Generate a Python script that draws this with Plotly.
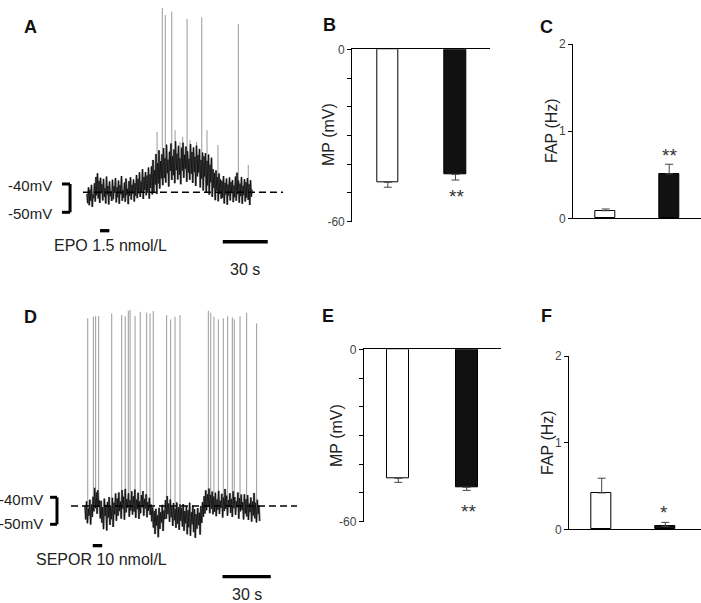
import numpy as np
import plotly.graph_objects as go

W, H = 701, 603
FONT = "Liberation Sans, Arial, sans-serif"

# ---------------- data ----------------
dt = 0.5  # s, sampling step of the read-off traces

# Panel A: membrane potential trace (mV), EPO 1.5 nmol/L
trace_a_mv = [
    -43.5, -46.8, -41.2, -47.5, -42.0, -45.9, -40.3, -48.1, -43.7, -44.9, -39.8, -46.2, -37.5, -44.0, -36.2, -45.1, -38.9, -46.7, -37.8, -43.3,
    -40.1, -45.8, -38.2, -44.6, -41.5, -46.9, -37.4, -43.8, -40.7, -47.2, -39.1, -44.3, -42.6, -46.0, -38.5, -45.4, -40.8, -43.1, -37.9, -46.5,
    -41.2, -44.7, -38.8, -47.0, -40.4, -43.6, -37.2, -45.9, -42.1, -44.8, -39.5, -46.3, -38.1, -43.9, -41.7, -47.1, -39.0, -44.2, -37.6, -45.5,
    -40.3, -43.4, -38.4, -46.2, -39.7, -44.1, -36.8, -45.0, -38.2, -43.3, -35.9, -44.6, -39.1, -42.8, -34.7, -45.3, -37.5, -42.2, -35.8, -44.0,
    -37.0, -43.1, -34.2, -45.2, -36.6, -41.4, -33.8, -43.7, -31.5, -42.9, -35.1, -40.2, -29.4, -43.5, -32.7, -39.8, -28.1, -41.6, -31.9, -38.0,
    -29.5, -40.4, -27.3, -37.9, -30.8, -39.5, -26.1, -36.2, -31.4, -40.9, -28.6, -35.4, -25.7, -38.6, -30.2, -36.9, -27.8, -39.7, -24.9, -35.1,
    -29.3, -38.4, -26.5, -36.7, -30.9, -40.1, -27.2, -35.3, -25.4, -37.8, -29.7, -34.6, -26.8, -39.2, -28.4, -35.9, -31.1, -38.5, -25.9, -36.4,
    -28.7, -39.6, -27.1, -35.8, -30.4, -40.7, -26.4, -37.3, -29.8, -36.0, -27.6, -41.2, -31.5, -38.1, -28.9, -42.3, -30.2, -37.4, -29.1, -43.0,
    -31.8, -40.5, -29.6, -43.8, -33.2, -39.4, -30.7, -44.6, -34.8, -41.3, -36.1, -45.7, -35.2, -42.4, -37.6, -46.1, -36.3, -43.5, -38.4, -45.2,
    -38.9, -44.8, -37.2, -46.9, -39.6, -43.7, -38.1, -47.3, -40.2, -44.1, -37.7, -45.8, -39.3, -43.2, -38.6, -46.4, -40.5, -44.7, -37.4, -45.9,
    -36.0, -43.6, -38.8, -46.6, -39.9, -44.3, -37.5, -47.0, -40.7, -43.9, -38.3, -46.2, -39.4, -44.8, -37.9, -45.6, -40.1, -47.4, -38.7, -44.5, -42.0,
]
spike_a_t = [46.7, 50.2, 52.2, 56.5, 58.7, 62.0, 63.8, 66.7, 68.7, 73.1, 76.5, 80.0, 87.3, 100.9, 107.5]
spike_a_peak = [-21.6, 22.2, 19.7, 20.9, -21.0, -25.1, -23.3, 18.3, -24.5, -25.1, 18.9, -21.0, -26.2, 16.5, -33.3]

# Panel D: membrane potential trace (mV), SEPOR 10 nmol/L
trace_d_mv = [
    -43.0, -48.2, -41.5, -49.6, -44.1, -46.8, -40.9, -50.1, -42.7, -47.3, -39.8, -45.2, -36.5, -44.0, -38.2, -46.1, -37.4, -43.5, -41.2, -47.8,
    -41.3, -49.4, -43.6, -51.8, -40.5, -46.9, -42.8, -52.3, -41.7, -47.5, -39.9, -50.2, -43.4, -48.1, -40.2, -51.0, -42.0, -46.3, -38.6, -48.7,
    -40.4, -46.8, -38.2, -45.1, -41.6, -47.9, -37.3, -44.2, -39.8, -48.3, -36.9, -45.6, -40.7, -43.8, -38.5, -47.2, -41.1, -44.9, -37.8, -46.4,
    -39.6, -45.3, -37.1, -47.6, -40.9, -44.4, -38.3, -48.0, -41.4, -45.9, -39.2, -43.7, -37.7, -46.8, -40.6, -44.1, -38.9, -47.4, -41.8, -45.0,
    -40.2, -46.5, -42.7, -48.9, -43.8, -51.2, -45.1, -53.6, -44.3, -50.4, -46.7, -54.8, -43.9, -51.7, -45.6, -49.3, -42.8, -52.5, -44.9, -48.1,
    -41.0, -47.9, -39.5, -46.2, -42.3, -49.1, -40.8, -47.4, -43.5, -50.6, -42.1, -48.5, -44.2, -51.3, -41.9, -49.8, -43.7, -52.0, -42.6, -48.7,
    -43.9, -50.8, -42.5, -52.4, -45.1, -49.6, -43.3, -53.7, -44.8, -51.1, -42.0, -54.2, -45.6, -50.0, -43.1, -52.9, -44.4, -55.0, -46.2, -51.6,
    -44.0, -50.3, -45.7, -53.8, -43.2, -49.5, -41.8, -47.2, -39.6, -46.0, -37.4, -44.8, -38.9, -43.5, -36.8, -45.9, -39.1, -44.2, -37.9, -46.3,
    -39.7, -45.4, -38.3, -47.0, -40.8, -44.6, -37.6, -46.2, -41.3, -43.9, -38.7, -47.5, -40.1, -45.1, -36.9, -44.3, -39.4, -46.8, -41.0, -43.6,
    -38.5, -45.8, -40.6, -47.3, -37.8, -44.0, -39.9, -46.5, -41.5, -43.7, -38.2, -47.9, -40.3, -45.2, -39.0, -44.7, -41.8, -48.2, -38.9, -46.0,
    -40.7, -47.1, -39.2, -48.4, -42.3, -45.5, -40.1, -49.0, -41.6, -46.7, -38.4, -47.8, -42.0, -49.3, -40.9, -46.2, -43.1, -48.8,
]
spike_d_t = [1.7, 5.2, 6.6, 8.5, 16.6, 22.8, 25.0, 26.9, 28.0, 31.1, 34.3, 38.3, 40.4, 42.4,
             50.7, 53.2, 55.9, 59.0, 76.6, 78.1, 80.1, 82.8, 85.9, 88.6, 91.5, 92.7, 96.3, 100.4, 106.6]
spike_d_peak = [26.3, 26.9, 27.1, 27.1, 28.1, 27.5, 27.1, 29.1, 29.4, 27.1, 28.7, 28.4, 28.1, 29.0,
                27.5, 25.9, 26.9, 27.5, 29.1, 28.4, 26.9, 25.9, 26.3, 27.1, 26.6, 25.9, 27.1, 28.4, 24.4]

baseline_a_mv = -42.9
baseline_d_mv = -43.2
scale_bar_s = 30
drug_a = "EPO 1.5 nmol/L"
drug_d = "SEPOR 10 nmol/L"

# Bar panels
groups = ["Control", "Drug"]
mp_b = [-46.3, -43.5]
mp_b_err = [1.7, 2.0]
fap_c = [0.087, 0.51]
fap_c_err = [0.02, 0.11]
mp_e = [-44.9, -48.0]
mp_e_err = [1.4, 1.1]
fap_f = [0.42, 0.035]
fap_f_err = [0.17, 0.045]

# ---------------- helpers ----------------
def xd(a, b):
    return [a / W, b / W]

def yd(top, bottom):
    return [1 - bottom / H, 1 - top / H]

def px(x):
    return x / W

def py(y):
    return 1 - y / H

def xrange_px(p0, p1, anchor_px, anchor_val, ppu):
    return [anchor_val + (p0 - anchor_px) / ppu, anchor_val + (p1 - anchor_px) / ppu]

def yrange_px(top, bottom, anchor_px, anchor_val, ppu):
    return [anchor_val + (anchor_px - bottom) / ppu, anchor_val + (anchor_px - top) / ppu]

def build_trace(vals, st, sp):
    t = np.arange(len(vals)) * dt
    v = np.array(vals, dtype=float)
    sx, sy = [], []
    for ts, pk in zip(st, sp):
        i = int(round(ts / dt))
        i = min(max(i, 0), len(v) - 1)
        sx += [ts, ts, None]
        sy += [v[i], pk, None]
    return t, v, sx, sy

fig = go.Figure()

# ---------------- trace panels ----------------
for (vals, st, sp, xa, ya) in [
    (trace_a_mv, spike_a_t, spike_a_peak, "x", "y"),
    (trace_d_mv, spike_d_t, spike_d_peak, "x4", "y4"),
]:
    T, V, sx, sy = build_trace(vals, st, sp)
    fig.add_trace(go.Scatter(x=sx, y=sy, mode="lines", line=dict(color="#9a9a9a", width=1),
                             xaxis=xa, yaxis=ya, hoverinfo="skip", showlegend=False))
    fig.add_trace(go.Scatter(x=T, y=V, mode="lines", line=dict(color="#8a8a8a", width=2.2),
                             xaxis=xa, yaxis=ya, hoverinfo="skip", showlegend=False))
    fig.add_trace(go.Scatter(x=T, y=V, mode="lines", line=dict(color="#111111", width=0.9),
                             xaxis=xa, yaxis=ya, hoverinfo="skip", showlegend=False))

# ---------------- bar panels ----------------
def add_bars(vals, errs, xa, ya, width, negative):
    if negative:
        ey = dict(type="data", symmetric=False, array=[0, 0], arrayminus=errs,
                  color="#444", thickness=1, width=4)
    else:
        ey = dict(type="data", symmetric=False, array=errs, arrayminus=[0, 0],
                  color="#444", thickness=1, width=4)
    fig.add_trace(go.Bar(x=[0, 1], y=vals, width=width, xaxis=xa, yaxis=ya,
                         marker=dict(color=["white", "#111111"], line=dict(color="black", width=1)),
                         error_y=ey, showlegend=False, hoverinfo="skip"))

def bar_xaxis(left, right, c0, c1):
    ppu = (c1 - c0)
    return [(left - c0) / ppu, (right - c0) / ppu], ppu

rb, ppb = bar_xaxis(352.3, 490, 387.8, 455.5)
rc, ppc = bar_xaxis(573.3, 701, 605.7, 669.2)
re_, ppe = bar_xaxis(364, 500.7, 398.3, 466.7)
rf, ppf = bar_xaxis(569.3, 701, 601.7, 665.3)

add_bars(mp_b, mp_b_err, "x2", "y2", 21.5 / ppb, True)
add_bars(fap_c, fap_c_err, "x3", "y3", 20 / ppc, False)
add_bars(mp_e, mp_e_err, "x5", "y5", 22 / ppe, True)
add_bars(fap_f, fap_f_err, "x6", "y6", 20 / ppf, False)

hidden = dict(showgrid=False, zeroline=False, showticklabels=False, ticks="", showline=False,
              fixedrange=True, automargin=False)
axline = dict(showline=True, linecolor="black", linewidth=1.3, showgrid=False, zeroline=False,
              fixedrange=True, automargin=False)
tickstyle = dict(ticks="outside", ticklen=4, tickwidth=1.1, tickcolor="black",
                 tickfont=dict(family=FONT, size=12, color="#444"))

layout = dict(
    width=W, height=H, margin=dict(l=0, r=0, t=0, b=0, pad=0, autoexpand=False),
    paper_bgcolor="white", plot_bgcolor="rgba(0,0,0,0)", showlegend=False, bargap=0,
    xaxis=dict(domain=xd(0, 300), range=xrange_px(0, 300, 87, 0, 1.5), anchor="y", **hidden),
    yaxis=dict(domain=yd(0, 290), range=yrange_px(0, 290, 212.3, -50, 2.83), anchor="x", **hidden),
    xaxis4=dict(domain=xd(0, 300), range=xrange_px(0, 300, 85, 0, 1.61), anchor="y4", **hidden),
    yaxis4=dict(domain=yd(295, 603), range=yrange_px(295, 603, 524.3, -50, 2.7), anchor="x4", **hidden),
    xaxis2=dict(domain=xd(352.3, 490), range=rb, anchor="y2", side="top", showticklabels=False, ticks="", **axline),
    yaxis2=dict(domain=yd(49.3, 221.7), range=[-60, 0], anchor="x2", tickvals=[0, -10, -20, -30, -40, -50, -60],
                ticktext=["0", "", "", "", "", "", "-60"], **axline, **tickstyle),
    xaxis3=dict(domain=xd(573.3, 701), range=rc, anchor="y3", showticklabels=False, ticks="", **axline),
    yaxis3=dict(domain=yd(44, 218.3), range=[0, 2], anchor="x3", tickvals=[0, 1, 2], **axline, **tickstyle),
    xaxis5=dict(domain=xd(364, 500.7), range=re_, anchor="y5", side="top", showticklabels=False, ticks="", **axline),
    yaxis5=dict(domain=yd(349.3, 521.7), range=[-60, 0], anchor="x5", tickvals=[0, -10, -20, -30, -40, -50, -60],
                ticktext=["0", "", "", "", "", "", "-60"], **axline, **tickstyle),
    xaxis6=dict(domain=xd(569.3, 701), range=rf, anchor="y6", showticklabels=False, ticks="", **axline),
    yaxis6=dict(domain=yd(356, 529.3), range=[0, 2], anchor="x6", tickvals=[0, 1, 2], **axline, **tickstyle),
)
fig.update_layout(**layout)

# ---------------- scale bars, baselines, brackets ----------------
shapes = []
def seg(xref, yref, x0, y0, x1, y1, w, dash=None):
    d = dict(type="line", xref=xref, yref=yref, x0=x0, y0=y0, x1=x1, y1=y1,
             line=dict(color="black", width=w))
    if dash:
        d["line"]["dash"] = dash
    shapes.append(d)

# Panel A
seg("x", "y", -2.7, baseline_a_mv, 130.7, baseline_a_mv, 1.5, "7px,4px")
seg("x", "y", -11.3, -40, -11.3, -50, 3)
seg("x", "y", -16.7, -40, -11.3, -40, 3)
seg("x", "y", -16.7, -50, -11.3, -50, 3)
seg("x", "y", 8.7, -56.5, 14.9, -56.5, 3.3)
seg("x", "y", 90.5, -60.4, 90.5 + scale_bar_s, -60.4, 3.3)
# Panel D
seg("x4", "y4", -8.7, baseline_d_mv, 131.7, baseline_d_mv, 1.5, "7px,4px")
seg("x4", "y4", -17.4, -40, -17.4, -50, 3)
seg("x4", "y4", -21.7, -40, -17.4, -40, 3)
seg("x4", "y4", -21.7, -50, -17.4, -50, 3)
seg("x4", "y4", 4.8, -57.9, 10.7, -57.9, 3.3)
seg("x4", "y4", 85.4, -69.4, 85.4 + scale_bar_s, -69.4, 3.3)
fig.update_layout(shapes=shapes)

# ---------------- text ----------------
ann = []
def txt(s, x, y, size=14, bold=False, xanchor="center", angle=0, color="#222"):
    ann.append(dict(text=f"<b>{s}</b>" if bold else s, x=px(x), y=py(y), xref="paper", yref="paper",
                    showarrow=False, xanchor=xanchor, yanchor="middle", textangle=angle,
                    font=dict(family=FONT, size=size, color=color)))

for letter, x, y in [("A", 30, 27), ("B", 329, 25), ("C", 546, 27),
                     ("D", 30, 317), ("E", 328, 316), ("F", 546, 316)]:
    txt(letter, x, y, size=18, bold=True, color="#111")

txt("-40mV", 54, 186, size=15, xanchor="right")
txt("-50mV", 54, 214, size=15, xanchor="right")
txt(drug_a, 52, 245, size=16, xanchor="left")
txt(f"{scale_bar_s} s", 245, 269, size=16)

txt("-40mV", 45, 499, size=15, xanchor="right")
txt("-50mV", 45, 523, size=15, xanchor="right")
txt(drug_d, 34, 559, size=16, xanchor="left")
txt(f"{scale_bar_s} s", 247, 594, size=16)

txt("MP (mV)", 328, 135, size=16, angle=-90)
txt("FAP (Hz)", 551, 131, size=16, angle=-90)
txt("MP (mV)", 336, 436, size=16, angle=-90)
txt("FAP (Hz)", 547, 443, size=16, angle=-90)

txt("**", 456, 196, size=19, color="#333")
txt("**", 669, 156, size=19, color="#333")
txt("**", 468, 511, size=19, color="#333")
txt("*", 664, 512, size=19, color="#333")

fig.update_layout(annotations=ann)
fig.write_html("out.html", config={"displayModeBar": False},
               post_script="document.body.style.margin='0px';")
